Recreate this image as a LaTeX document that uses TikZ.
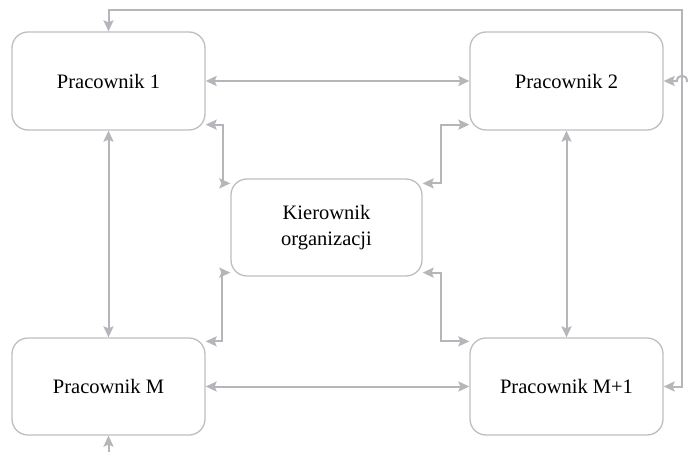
\documentclass[tikz,border=0pt]{standalone}
\usepackage{fontspec}
\setmainfont{Liberation Serif}
\usetikzlibrary{arrows.meta}
\definecolor{boxgray}{RGB}{190,190,192}
\definecolor{linegray}{RGB}{180,182,186}
\tikzset{
  box/.style={draw=boxgray, line width=1.3pt, rounded corners=16pt, minimum width=193pt, minimum height=98pt, inner sep=0pt, align=center, font=\fontsize{20.5}{26}\selectfont},
  conn/.style={draw=linegray, line width=2pt, arrows={-Stealth[length=11pt,width=10pt,inset=2pt]}},
  conn2/.style={conn, arrows={Stealth[length=11pt,width=10pt,inset=2pt]-Stealth[length=11pt,width=10pt,inset=2pt]}}
}
\begin{document}
\begin{tikzpicture}[x=1pt,y=-1pt]
\useasboundingbox (0,0) rectangle (688,452);
\node[box] (P1) at (108.5,81) {Pracownik 1};
\node[box] (P2) at (566.5,81) {Pracownik 2};
\node[box, minimum width=191pt, minimum height=97pt] (K) at (326.5,227.5) {Kierownik\\organizacji};
\node[box, minimum height=97pt] (PM) at (108.5,386.5) {Pracownik M};
\node[box, minimum height=97pt] (PM1) at (566.5,386.5) {Pracownik M+1};
% main links
\draw[conn2] (P1.east) -- (P2.west);
\draw[conn2] (PM.east) -- (PM1.west);
\draw[conn2] (P1.south) -- (PM.north);
\draw[conn2] (P2.south) -- (PM1.north);
% manager links
\draw[conn2] ([yshift=6pt]P1.south east) -- ++(17,0) |- ([yshift=-5pt]K.north west);
\draw[conn2] ([yshift=6pt]P2.south west) -- ++(-28,0) |- ([yshift=-5pt]K.north east);
\draw[conn2] ([yshift=-4pt]PM.north east) -- ++(16,0) |- ([yshift=4pt]K.south west);
\draw[conn2] ([yshift=-4pt]PM1.north west) -- ++(-28,0) |- ([yshift=4pt]K.south east);
% outer loop
\coordinate (tr) at (682,10);
\draw[conn2] (P1.north) |- (tr) |- (PM1.east);
% clipped connectors
\coordinate (hopR) at (690,81);
\draw[conn] (hopR) -- (687,81) .. controls (687,74) and (677,74) .. (677,81) -- (P2.east);
\coordinate (bl) at (108.5,455);
\draw[conn] (bl) -- (PM.south);
\end{tikzpicture}
\end{document}
